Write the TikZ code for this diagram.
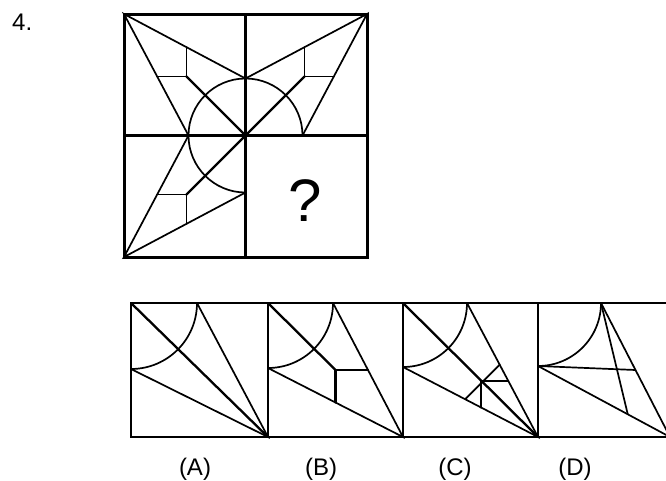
\documentclass[tikz,border=0pt]{standalone}
\usepackage{fontspec}
\setmainfont{Liberation Sans}
\usetikzlibrary{calc}

\begin{document}
\begin{tikzpicture}[x=1pt,y=-1pt,
  gridline/.style={line width=3pt},
  fig/.style={line width=1.7pt,line cap=round},
  diag/.style={line width=2.3pt,line cap=round},
  boxframe/.style={line width=2.3pt},
  lbl/.style={font=\fontsize{24}{28}\selectfont,inner sep=0pt,anchor=base}
]
\clip (0,0) rectangle (666,480);

\node[lbl,anchor=base west] (num) at (12,30) {4.};

% question grid
\coordinate (C) at (245.5,135.5);
\draw[fig] (C) ++(0,57) arc[start angle=90,end angle=360,radius=57];
\foreach \sx/\sy in {-1/-1,1/-1,-1/1}{
  \coordinate (K) at ($(C)+(\sx*121.5,\sy*121.5)$);
  \coordinate (V) at ($(C)+(0,\sy*57)$);
  \coordinate (H) at ($(C)+(\sx*57,0)$);
  \coordinate (D) at ($(C)!0.486!(K)$);
  \draw[fig] (V) -- (K) -- (H);
  \draw[diag] (C) -- (D);
  \draw[fig] ($(K)!0.514!(V)$) -- (D) -- ($(K)!0.514!(H)$);
}
\draw[gridline] (124,14) rectangle (367,257);
\draw[gridline] (245.5,14) -- (245.5,257);
\draw[gridline] (124,135.5) -- (367,135.5);
\node[font=\fontsize{60}{66}\selectfont,inner sep=0pt,anchor=base] (qm) at (305,221) {?};

% answer options
\foreach \L/\R/\p/\n in {131/268/66/A,268/403/65/B,403/538/64/C,538/670/63/D}{
  \coordinate (tl\n) at (\L,303);
  \coordinate (br\n) at (\R,437);
  \coordinate (top\n) at (\L+\p,303);
  \coordinate (left\n) at (\L,303+\p);
  \draw[fig] (top\n) -- (br\n) -- (left\n);
  \draw[fig] (top\n) arc[start angle=0,end angle=90,radius=\p];
}
% A
\draw[diag] (tlA) -- (brA);
% B
\coordinate (dB) at ($(tlB)!0.5!(brB)$);
\draw[diag] (tlB) -- (dB);
\draw[diag] ($(topB)!0.5!(brB)$) -- (dB) -- ($(leftB)!0.5!(brB)$);
% C
\coordinate (dC) at ($(tlC)!0.58!(brC)$);
\draw[diag] (tlC) -- (brC);
\draw[fig] ($(topC)!0.58!(brC)$) -- (dC) -- ($(leftC)!0.58!(brC)$);
\draw[fig] ($(topC)!0.46!(brC)$) -- ($(leftC)!0.46!(brC)$);
% D
\draw[fig] (leftD) -- ($(topD)!0.5!(brD)$);
\draw[fig] (topD) -- ($(leftD)!0.68!(brD)$);

\foreach \L/\R/\n in {131/268/A,268/403/B,403/538/C,538/670/D}
  \draw[boxframe] (\L,303) rectangle (\R,437);

\node[lbl] (labA) at (195,475) {(A)};
\node[lbl] (labB) at (321,475) {(B)};
\node[lbl] (labC) at (455,475) {(C)};
\node[lbl] (labD) at (575,475) {(D)};
\end{tikzpicture}
\end{document}
